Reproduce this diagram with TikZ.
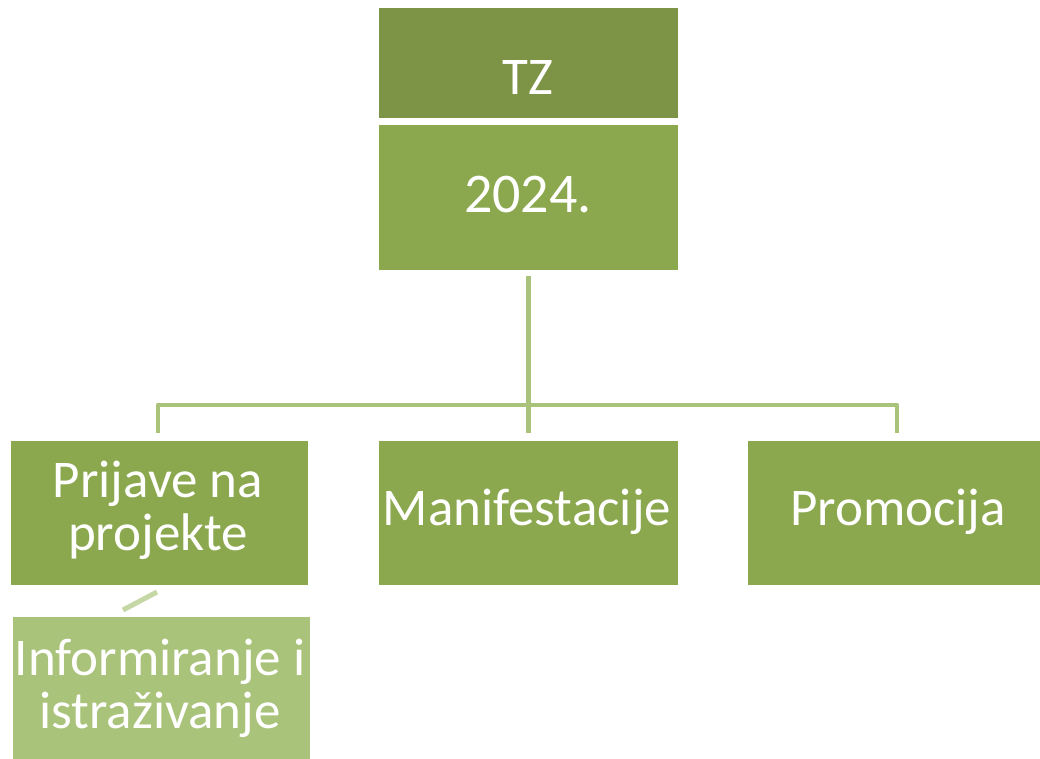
\documentclass[tikz,border=0pt]{standalone}
\usepackage{fontspec}
\setmainfont{Carlito}
\definecolor{darkolive}{HTML}{7D9446}
\definecolor{midolive}{HTML}{8BA84F}
\definecolor{lightolive}{HTML}{A9C37A}
\definecolor{linegreen}{HTML}{A9C47A}
\definecolor{palegreen}{HTML}{C5D7A5}
\begin{document}
\begin{tikzpicture}[x=1pt,y=-1pt,
  box/.style={draw=white,line width=0.6pt,inner sep=0pt,anchor=north west},
  lbl/.style={text=white,anchor=base,inner sep=0pt,align=center},
  conn/.style={draw=linegreen,line width=4.5pt,line join=round},
  big/.style={font=\fontsize{53}{55}\selectfont}
]
\useasboundingbox (0,0) rectangle (1040,759);
% boxes
\node[box,fill=darkolive,minimum width=300pt,minimum height=111pt] (tz) at (378,7) {};
\node[box,fill=midolive,minimum width=300pt,minimum height=146pt] (yr) at (378,124) {};
\node[box,fill=midolive,minimum width=298pt,minimum height=145pt] (pr) at (10,440) {};
\node[box,fill=midolive,minimum width=300pt,minimum height=145pt] (ma) at (378,440) {};
\node[box,fill=midolive,minimum width=294pt,minimum height=145pt] (po) at (747,440) {};
\node[box,fill=lightolive,minimum width=298pt,minimum height=150pt] (in) at (12,616) {};
% labels
\node[lbl,font=\fontsize{53}{55}\selectfont] (tzt) at (528,95) {TZ};
\node[lbl,font=\fontsize{56}{58}\selectfont] (yrt) at (528,213) {2024.};
\node[lbl,big] (prt1) at (158,497) {Prijave na};
\node[lbl,big] (prt2) at (158,550) {projekte};
\node[lbl,big] (mat) at (527,525) {Manifestacije};
\node[lbl,big] (pot) at (898,525) {Promocija};
\node[lbl,big] (int1) at (160,675) {Informiranje i};
\node[lbl,big] (int2) at (160,728) {istraživanje};
% connectors
\coordinate (jl) at (158,405);
\coordinate (jr) at (897,405);
\coordinate (jm) at (528,405);
\draw[conn] ([yshift=-5pt]yr.south) -- ([yshift=7pt]ma.north);
\draw[conn] ([yshift=7pt]pr.north -| jl) -- (jl) -- (jr) -- ([yshift=7pt]po.north -| jr);
\coordinate (d1) at (157,592);
\coordinate (d2) at (123,610);
\draw[draw=palegreen,line width=5pt] (d1) -- (d2);
\end{tikzpicture}
\end{document}
